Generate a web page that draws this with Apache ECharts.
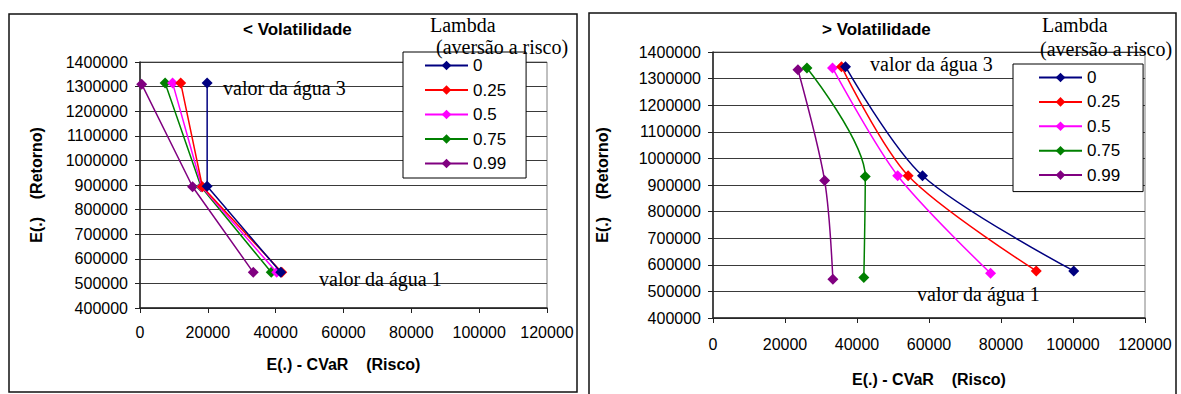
<!DOCTYPE html>
<html><head><meta charset="utf-8">
<script src="https://cdn.jsdelivr.net/npm/echarts@6/dist/echarts.min.js"></script>
<style>html,body{margin:0;padding:0;background:#fff}#c{width:1181px;height:394px}</style>
</head><body><div id="c"></div>
<script>
// ---- data ----
const lambdas = ['0', '0.25', '0.5', '0.75', '0.99'];
const colors = ['#000080', '#FF0000', '#FF00FF', '#008000', '#800080'];
const xTicks = [0, 20000, 40000, 60000, 80000, 100000, 120000];
const yTicks = [400000, 500000, 600000, 700000, 800000, 900000, 1000000, 1100000, 1200000, 1300000, 1400000];
// "< Volatilidade": risk (E(.) - CVaR) and return E(.) per lambda
const lowVolRisk = [
  [19800, 19800, 41500],
  [12000, 18400, 41800],
  [9600, 18200, 40300],
  [7400, 18000, 38700],
  [500, 15500, 33400]
];
const lowVolReturn = [
  [1315000, 895000, 545000],
  [1315000, 893000, 545000],
  [1315000, 893000, 545000],
  [1315000, 893000, 545000],
  [1310000, 893000, 545000]
];
// "> Volatilidade"
const highVolRisk = [
  [36800, 58200, 100200],
  [35700, 54200, 89800],
  [33200, 51300, 77100],
  [26100, 42300, 41900],
  [23600, 31000, 33300]
];
const highVolReturn = [
  [1345000, 935000, 577000],
  [1345000, 935000, 577000],
  [1340000, 935000, 568000],
  [1340000, 932000, 552000],
  [1333000, 917000, 546000]
];

const SANS = 'Liberation Sans, Arial, sans-serif';
const SERIF = 'Liberation Serif, Times New Roman, serif';
const plain = v => String(v);

function xAxis(gridIndex, labelMargin, nameGap) {
  return {
    type: 'value', gridIndex, min: xTicks[0], max: xTicks[xTicks.length - 1], interval: xTicks[1] - xTicks[0],
    name: 'E(.) - CVaR    (Risco)', nameLocation: 'middle', nameGap,
    nameTextStyle: { fontFamily: SANS, fontSize: 16, fontWeight: 'bold', color: '#000' },
    axisLine: { show: true, lineStyle: { color: '#222', width: 1.5 } },
    axisTick: { show: true, length: 5, lineStyle: { color: '#222' } },
    axisLabel: { fontFamily: SANS, fontSize: 16, color: '#000', margin: labelMargin, formatter: plain },
    splitLine: { show: false }
  };
}
function yAxis(gridIndex, nameGap) {
  return {
    type: 'value', gridIndex, min: yTicks[0], max: yTicks[yTicks.length - 1], interval: yTicks[1] - yTicks[0],
    name: 'E(.)    (Retorno)', nameLocation: 'middle', nameGap, nameRotate: 90,
    nameTextStyle: { fontFamily: SANS, fontSize: 16, fontWeight: 'bold', color: '#000' },
    axisLine: { show: true, lineStyle: { color: '#222', width: 1.5 } },
    axisTick: { show: true, length: 5, lineStyle: { color: '#222' } },
    axisLabel: { fontFamily: SANS, fontSize: 16, color: '#000', margin: 12, formatter: plain },
    splitLine: { show: true, lineStyle: { color: '#3a3a3a', width: 1 } }
  };
}

const series = [];
lambdas.forEach((name, i) => {
  series.push({
    name, type: 'line', xAxisIndex: 0, yAxisIndex: 0,
    data: lowVolRisk[i].map((x, k) => [x, lowVolReturn[i][k]]),
    symbol: 'diamond', symbolSize: 11, showSymbol: true,
    lineStyle: { color: colors[i], width: 1.5 }, itemStyle: { color: colors[i] },
    animation: false, z: 3 + (4 - i)
  });
});
lambdas.forEach((name, i) => {
  series.push({
    name, type: 'line', xAxisIndex: 1, yAxisIndex: 1, smooth: 0.3,
    data: highVolRisk[i].map((x, k) => [x, highVolReturn[i][k]]),
    symbol: 'diamond', symbolSize: 11, showSymbol: true,
    lineStyle: { color: colors[i], width: 1.5 }, itemStyle: { color: colors[i] },
    animation: false, z: 3 + (4 - i)
  });
});

function legend(left, top, gap, padding) {
  return {
    data: lambdas, left, top, orient: 'vertical', selectedMode: false,
    backgroundColor: '#fff', borderColor: '#000', borderWidth: 1, padding,
    itemWidth: 43, itemHeight: 12, itemGap: gap,
    textStyle: { fontFamily: SANS, fontSize: 17, color: '#000', lineHeight: 16 }
  };
}

function txt(x, y, text, font) {
  return { type: 'text', z: 100, style: { text, x, y, font, fill: '#000', textVerticalAlign: 'middle', verticalAlign: 'middle' } };
}

const option = {
  animation: false,
  backgroundColor: '#fff',
  title: [
    { text: '< Volatilidade', left: 243, top: 21, padding: 0, textStyle: { fontFamily: SANS, fontSize: 17, fontWeight: 'bold', color: '#000' } },
    { text: '> Volatilidade', left: 822, top: 21, padding: 0, textStyle: { fontFamily: SANS, fontSize: 17, fontWeight: 'bold', color: '#000' } }
  ],
  grid: [
    { left: 140, top: 62, width: 407, height: 246, show: true, borderColor: '#808080', borderWidth: 1, backgroundColor: 'transparent' },
    { left: 713, top: 52, width: 432, height: 266, show: true, borderColor: '#808080', borderWidth: 1, backgroundColor: 'transparent' }
  ],
  xAxis: [xAxis(0, 16, 48), xAxis(1, 18, 53)],
  yAxis: [yAxis(0, 96), yAxis(1, 103)],
  legend: [legend(403, 52, 7.5, [5, 20, 6, 21]), legend(1013, 64, 7.4, [5, 23, 8, 25])],
  series,
  graphic: [
    { type: 'rect', z: 0, silent: true, shape: { x: 9, y: 14, width: 568, height: 378 }, style: { fill: 'none', stroke: '#111', lineWidth: 1.5 } },
    { type: 'rect', z: 0, silent: true, shape: { x: 589, y: 13, width: 587, height: 390 }, style: { fill: 'none', stroke: '#111', lineWidth: 1.5 } },
    txt(430, 25, 'Lambda', '20px ' + SERIF),
    txt(436, 47, '(aversão a risco)', '20px ' + SERIF),
    txt(1042, 25, 'Lambda', '20px ' + SERIF),
    txt(1040, 49, '(aversão a risco)', '20px ' + SERIF),
    txt(223, 88, 'valor da água 3', '20px ' + SERIF),
    txt(319, 279, 'valor da água 1', '20px ' + SERIF),
    txt(870, 64, 'valor da água 3', '20px ' + SERIF),
    txt(917, 294, 'valor da água 1', '20px ' + SERIF)
  ]
};

const chart = echarts.init(document.getElementById('c'), null, { renderer: 'svg' });
chart.setOption(option);
</script></body></html>
